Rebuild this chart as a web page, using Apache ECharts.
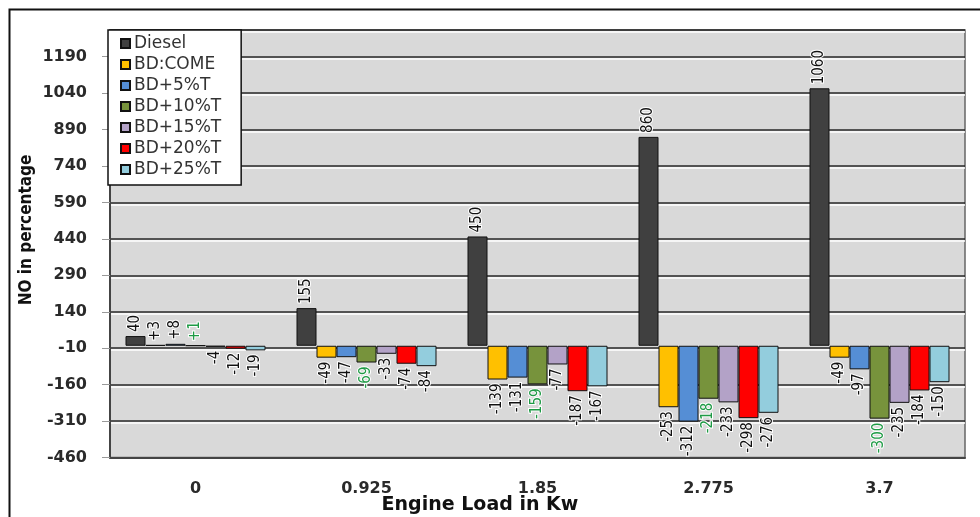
<!DOCTYPE html>
<html>
<head>
<meta charset="utf-8">
<script src="https://cdn.jsdelivr.net/npm/echarts@6/dist/echarts.min.js"></script>
<style>
  html, body { margin: 0; padding: 0; background: #fff; }
  #chart { width: 980px; height: 517px; }
</style>
</head>
<body>
<div id="chart"></div>
<script>
// Engine load categories (kW)
const categories = ['0', '0.925', '1.85', '2.775', '3.7'];

// NO change in percentage for each fuel blend
const diesel = [40, 155, 450, 860, 1060];
const bdCome = [3, -49, -139, -253, -49];
const bd5T = [8, -47, -131, -312, -97];
const bd10T = [1, -69, -159, -218, -300];
const bd15T = [-4, -33, -77, -233, -235];
const bd20T = [-12, -74, -187, -298, -184];
const bd25T = [-19, -84, -167, -276, -150];

// Value axis range and step
const yMin = -460;
const yMax = 1300;
const yStep = 150;

const labelFont = "'DejaVu Sans Condensed', 'DejaVu Sans', sans-serif";

function makeSeries(name, values, color, labelColor, signed) {
  return {
    name: name,
    type: 'bar',
    barWidth: 20,
    barGap: '0%',
    itemStyle: { color: color, borderColor: '#111', borderWidth: 1 },
    label: {
      show: true,
      rotate: 90,
      verticalAlign: 'middle',
      distance: 4,
      fontFamily: labelFont,
      fontSize: 15,
      color: labelColor,
      textBorderColor: '#fff',
      textBorderWidth: 2,
      formatter: p => (signed && p.value > 0 ? '+' : '') + p.value
    },
    data: values.map(v => ({
      value: v,
      label: v >= 0 ? { position: 'top', align: 'left' } : { position: 'bottom', align: 'right' }
    }))
  };
}

const chart = echarts.init(document.getElementById('chart'), null, { renderer: 'canvas' });

chart.setOption({
  animation: false,
  backgroundColor: '#fff',
  grid: {
    left: 110, right: 15, top: 30, bottom: 59.5,
    show: true,
    backgroundColor: '#d9d9d9',
    borderColor: '#666',
    borderWidth: 1.5
  },
  legend: {
    orient: 'vertical',
    left: 108,
    top: 30,
    backgroundColor: '#fff',
    borderColor: '#111',
    borderWidth: 1.5,
    padding: [5, 20, 7, 12],
    itemWidth: 9,
    itemHeight: 9,
    itemGap: 4,
    icon: 'rect',
    textStyle: { fontFamily: "'DejaVu Sans', sans-serif", fontSize: 17, color: '#333', padding: [0, 0, 0, -1] },
    data: ['Diesel', 'BD:COME', 'BD+5%T', 'BD+10%T', 'BD+15%T', 'BD+20%T', 'BD+25%T']
  },
  xAxis: {
    type: 'category',
    data: categories,
    axisLine: { onZero: false, lineStyle: { color: '#444', width: 2 } },
    axisTick: { show: false },
    axisLabel: {
      margin: 23,
      fontFamily: "'DejaVu Sans', sans-serif",
      fontWeight: 'bold',
      fontSize: 16,
      color: '#2a2a2a'
    }
  },
  yAxis: {
    type: 'value',
    min: yMin,
    max: yMax,
    interval: yStep,
    axisLine: { show: true, lineStyle: { color: '#444', width: 2 } },
    axisTick: { show: true, length: 8, lineStyle: { color: '#999' } },
    axisLabel: {
      margin: 23,
      showMaxLabel: false,
      formatter: v => String(v),
      fontFamily: "'DejaVu Sans', sans-serif",
      fontWeight: 'bold',
      fontSize: 16,
      color: '#2a2a2a'
    },
    splitLine: {
      show: true,
      lineStyle: { color: '#262626', width: 1.5, shadowColor: '#ffffff', shadowOffsetY: 2, shadowBlur: 0 }
    }
  },
  graphic: [
    {
      type: 'rect',
      left: 7, top: 7,
      shape: { width: 1000, height: 600 },
      style: { fill: 'none', stroke: '#111', lineWidth: 2 },
      z: -1
    },
    {
      type: 'text',
      x: 27, y: 230,
      rotation: Math.PI / 2,
      style: {
        text: 'NO in percentage',
        fontFamily: "'Liberation Sans Narrow', 'DejaVu Sans Condensed', sans-serif",
        fontWeight: 'bold',
        fontSize: 17,
        fill: '#111',
        align: 'center',
        verticalAlign: 'middle'
      }
    },
    {
      type: 'text',
      x: 480, y: 505,
      style: {
        text: 'Engine Load in Kw',
        fontFamily: "'DejaVu Sans', sans-serif",
        fontWeight: 'bold',
        fontSize: 19,
        fill: '#111',
        align: 'center',
        verticalAlign: 'middle'
      }
    }
  ],
  series: [
    makeSeries('Diesel', diesel, '#404040', '#111', false),
    makeSeries('BD:COME', bdCome, '#ffc000', '#111', true),
    makeSeries('BD+5%T', bd5T, '#558ed5', '#111', true),
    makeSeries('BD+10%T', bd10T, '#77933c', '#1e9a45', true),
    makeSeries('BD+15%T', bd15T, '#b3a2c7', '#111', true),
    makeSeries('BD+20%T', bd20T, '#ff0000', '#111', true),
    makeSeries('BD+25%T', bd25T, '#93cddd', '#111', true)
  ]
});
</script>
</body>
</html>
